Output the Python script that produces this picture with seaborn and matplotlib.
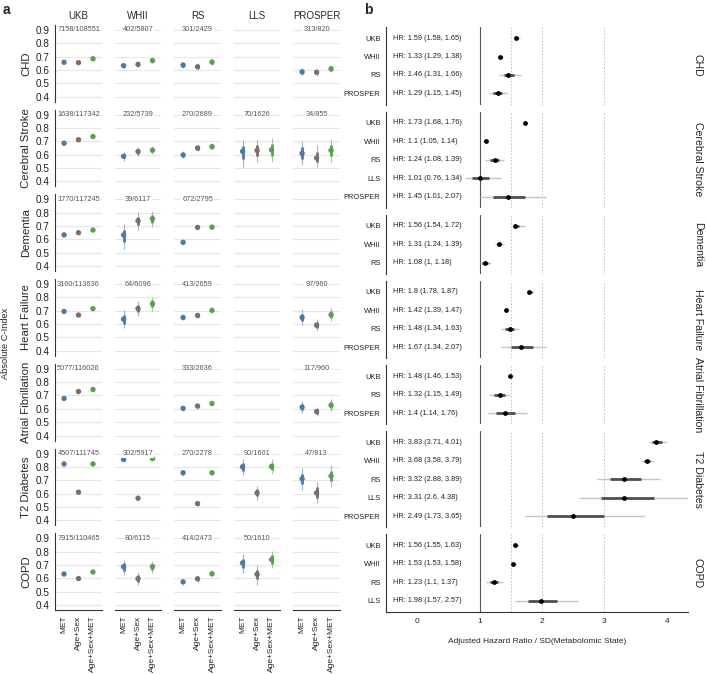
import numpy as np
import pandas as pd
import seaborn as sns
import matplotlib.pyplot as plt
from matplotlib.gridspec import GridSpec

nan = np.nan

outcomes = ["CHD", "Cerebral Stroke", "Dementia", "Heart Failure",
            "Atrial Fibrillation", "T2 Diabetes", "COPD"]
cohorts = ["UKB", "WHII", "RS", "LLS", "PROSPER"]
models = ["MET", "Age+Sex", "Age+Sex+MET"]
model_colors = ["#4E79A7", "#79706E", "#59A14F"]

# panel a: absolute C-index, rows = outcomes, cols = cohorts
met_est = [
    [0.658, 0.632, 0.637, nan, 0.586],
    [0.686, 0.588, 0.598, 0.625, 0.610],
    [0.634, 0.633, 0.578, nan, nan],
    [0.695, 0.637, 0.650, nan, 0.650],
    [0.678, nan, 0.604, nan, 0.612],
    [0.822, 0.855, 0.756, 0.800, 0.710],
    [0.632, 0.686, 0.573, 0.714, nan],
]
met_lo = [
    [0.652, 0.612, 0.612, nan, 0.560],
    [0.675, 0.555, 0.572, 0.510, 0.525],
    [0.624, 0.530, 0.562, nan, nan],
    [0.688, 0.570, 0.630, nan, 0.590],
    [0.672, nan, 0.585, nan, 0.570],
    [0.816, 0.840, 0.735, 0.740, 0.630],
    [0.627, 0.628, 0.550, 0.638, nan],
]
met_hi = [
    [0.664, 0.652, 0.662, nan, 0.614],
    [0.697, 0.620, 0.625, 0.712, 0.705],
    [0.644, 0.712, 0.594, nan, nan],
    [0.702, 0.705, 0.670, nan, 0.710],
    [0.684, nan, 0.625, nan, 0.658],
    [0.828, 0.870, 0.778, 0.858, 0.790],
    [0.637, 0.738, 0.596, 0.780, nan],
]
agesex_est = [
    [0.655, 0.642, 0.624, nan, 0.583],
    [0.712, 0.624, 0.650, 0.632, 0.575],
    [0.650, 0.740, 0.690, nan, nan],
    [0.668, 0.717, 0.665, nan, 0.592],
    [0.730, nan, 0.621, nan, 0.580],
    [0.610, 0.565, 0.525, 0.605, 0.605],
    [0.598, 0.597, 0.596, 0.630, nan],
]
agesex_lo = [
    [0.649, 0.620, 0.598, nan, 0.558],
    [0.702, 0.592, 0.625, 0.545, 0.510],
    [0.641, 0.670, 0.676, nan, nan],
    [0.661, 0.660, 0.646, nan, 0.550],
    [0.725, nan, 0.602, nan, 0.545],
    [0.602, 0.548, 0.505, 0.550, 0.530],
    [0.593, 0.552, 0.575, 0.550, nan],
]
agesex_hi = [
    [0.661, 0.664, 0.650, nan, 0.608],
    [0.722, 0.658, 0.675, 0.715, 0.672],
    [0.659, 0.805, 0.704, nan, nan],
    [0.675, 0.772, 0.684, nan, 0.635],
    [0.735, nan, 0.640, nan, 0.615],
    [0.618, 0.582, 0.545, 0.660, 0.690],
    [0.603, 0.648, 0.618, 0.700, nan],
]
full_est = [
    [0.684, 0.671, 0.660, nan, 0.609],
    [0.736, 0.634, 0.660, 0.637, 0.632],
    [0.670, 0.755, 0.692, nan, nan],
    [0.716, 0.752, 0.703, nan, 0.670],
    [0.745, nan, 0.640, nan, 0.627],
    [0.822, 0.862, 0.756, 0.803, 0.732],
    [0.647, 0.688, 0.634, 0.740, nan],
]
full_lo = [
    [0.678, 0.650, 0.635, nan, 0.582],
    [0.726, 0.605, 0.635, 0.545, 0.545],
    [0.661, 0.690, 0.678, nan, nan],
    [0.709, 0.700, 0.686, nan, 0.620],
    [0.740, nan, 0.620, nan, 0.585],
    [0.816, 0.848, 0.735, 0.748, 0.648],
    [0.642, 0.640, 0.610, 0.675, nan],
]
full_hi = [
    [0.690, 0.692, 0.685, nan, 0.638],
    [0.746, 0.662, 0.685, 0.722, 0.720],
    [0.679, 0.812, 0.706, nan, nan],
    [0.723, 0.805, 0.720, nan, 0.722],
    [0.750, nan, 0.660, nan, 0.672],
    [0.828, 0.876, 0.778, 0.860, 0.812],
    [0.652, 0.730, 0.660, 0.808, nan],
]
events = [
    ["7158/108551", "402/5807", "301/2429", "", "313/820"],
    ["1638/117342", "232/5739", "270/2689", "70/1626", "34/855"],
    ["1770/117245", "39/6117", "672/2795", "", ""],
    ["3160/113636", "64/6096", "413/2659", "", "97/960"],
    ["5077/116026", "", "333/2636", "", "117/960"],
    ["4507/111745", "302/5917", "270/2278", "90/1601", "47/813"],
    ["7915/110465", "80/6115", "414/2473", "50/1610", ""],
]

# panel b: adjusted hazard ratios per SD
hr_cohorts = [
    ["UKB", "WHII", "RS", "PROSPER"],
    ["UKB", "WHII", "RS", "LLS", "PROSPER"],
    ["UKB", "WHII", "RS"],
    ["UKB", "WHII", "RS", "PROSPER"],
    ["UKB", "RS", "PROSPER"],
    ["UKB", "WHII", "RS", "LLS", "PROSPER"],
    ["UKB", "WHII", "RS", "LLS"],
]
hr_est = [
    [1.59, 1.33, 1.46, 1.29],
    [1.73, 1.1, 1.24, 1.01, 1.45],
    [1.56, 1.31, 1.08],
    [1.8, 1.42, 1.48, 1.67],
    [1.48, 1.32, 1.4],
    [3.83, 3.68, 3.32, 3.31, 2.49],
    [1.56, 1.53, 1.23, 1.98],
]
hr_lo = [
    [1.58, 1.29, 1.31, 1.15],
    [1.68, 1.05, 1.08, 0.76, 1.01],
    [1.54, 1.24, 1],
    [1.78, 1.39, 1.34, 1.34],
    [1.46, 1.15, 1.14],
    [3.71, 3.58, 2.88, 2.6, 1.73],
    [1.55, 1.53, 1.1, 1.57],
]
hr_hi = [
    [1.65, 1.38, 1.66, 1.45],
    [1.76, 1.14, 1.39, 1.34, 2.07],
    [1.72, 1.39, 1.18],
    [1.87, 1.47, 1.63, 2.07],
    [1.53, 1.49, 1.76],
    [4.01, 3.79, 3.89, 4.38, 3.65],
    [1.63, 1.58, 1.37, 2.57],
]

# 66% interval drawn as the thick part (fraction of the 95% half-width)
z66 = 0.954 / 1.96

rows = []
for i, o in enumerate(outcomes):
    for j, c in enumerate(cohorts):
        for k, (est, lo, hi) in enumerate([(met_est, met_lo, met_hi),
                                          (agesex_est, agesex_lo, agesex_hi),
                                          (full_est, full_lo, full_hi)]):
            if not np.isnan(est[i][j]):
                rows.append(dict(outcome=o, cohort=c, model=models[k], pos=k,
                                 est=est[i][j], lo=lo[i][j], hi=hi[i][j]))
cidx = pd.DataFrame(rows)

hr_rows = []
for i, o in enumerate(outcomes):
    for k, c in enumerate(hr_cohorts[i]):
        hr_rows.append(dict(outcome=o, cohort=c, pos=k, hr=hr_est[i][k],
                            lo=hr_lo[i][k], hi=hr_hi[i][k]))
hr = pd.DataFrame(hr_rows)

sns.set_theme(style="white")
plt.rcParams["font.family"] = ["Liberation Sans", "DejaVu Sans"]

fig = plt.figure(figsize=(7.06, 6.74), dpi=100)
pal = dict(zip(models, model_colors))

# ---------------- panel a ----------------
gsa = GridSpec(7, 5, figure=fig, left=0.078, right=0.4816, top=0.963,
               bottom=0.095, hspace=0.104, wspace=0.27)
for i, o in enumerate(outcomes):
    for j, c in enumerate(cohorts):
        ax = fig.add_subplot(gsa[i, j])
        sub = cidx[(cidx.outcome == o) & (cidx.cohort == c)]
        for y in [0.4, 0.5, 0.6, 0.7, 0.8, 0.9]:
            ax.axhline(y, color="#e6e6e6", lw=0.8, zorder=0)
        if len(sub):
            cols = [pal[m] for m in sub.model]
            ax.vlines(sub.pos, sub.lo, sub.hi, colors=cols, lw=0.8,
                      alpha=0.55, zorder=1)
            ax.vlines(sub.pos, sub.est - (sub.est - sub.lo) * z66,
                      sub.est + (sub.hi - sub.est) * z66, colors=cols,
                      lw=2.0, zorder=2)
            sns.scatterplot(data=sub, x="pos", y="est", hue="model",
                            hue_order=models, palette=pal, s=15,
                            linewidth=0, legend=False, ax=ax, zorder=3)
        if events[i][j]:
            ax.text(1, 0.9, events[i][j], ha="center", va="center",
                    fontsize=5.3, color="#555555", zorder=4,
                    bbox=dict(facecolor="white", edgecolor="none", pad=0.6))
        ax.set_xlim(-0.62, 2.62)
        ax.set_ylim(0.3625, 0.9375)
        ax.set_xticks(range(3))
        ax.set_yticks([0.4, 0.5, 0.6, 0.7, 0.8, 0.9])
        for s in ["top", "right"]:
            ax.spines[s].set_visible(False)
        ax.spines["left"].set_visible(j == 0)
        ax.spines["bottom"].set_visible(i == 6)
        for s in ["left", "bottom"]:
            ax.spines[s].set_color("#333333")
            ax.spines[s].set_linewidth(0.8)
        ax.tick_params(length=2.5, width=0.6, color="#333333", pad=1.5)
        ax.set_xlabel("")
        ax.set_ylabel("")
        if j == 0:
            ax.set_yticklabels(["0.4", "0.5", "0.6", "0.7", "0.8", "0.9"],
                               fontsize=7.2, color="#222222")
            ax.set_ylabel(o, fontsize=8.2, labelpad=3)
        else:
            ax.tick_params(axis="y", left=False, labelleft=False)
        if i == 6:
            ax.set_xticklabels(models, rotation=90, fontsize=6.0,
                               color="#222222")
        else:
            ax.tick_params(axis="x", bottom=False, labelbottom=False)
        if i == 0:
            ax.set_title(c, fontsize=7.0, pad=4)

fig.text(0.008, 0.49, "Absolute C-Index", rotation=90, ha="center",
         va="center", fontsize=6.7)
fig.text(0.004, 0.995, "a", fontsize=10, fontweight="bold", va="top")

# ---------------- panel b ----------------
ratios = [len(c) + 0.2 for c in hr_cohorts]
gsb = GridSpec(7, 1, figure=fig, left=0.5467, right=0.9745, top=0.96,
               bottom=0.092, hspace=0.09, height_ratios=ratios)
for i, o in enumerate(outcomes):
    ax = fig.add_subplot(gsb[i, 0])
    sub = hr[hr.outcome == o]
    n = len(sub)
    ax.axvline(1, color="#555555", lw=0.8, zorder=0)
    for xv in [1.5, 2, 3]:
        ax.axvline(xv, color="#bbbbbb", lw=0.6, ls=(0, (2, 2)), zorder=0)
    ax.hlines(sub.pos, sub.lo, sub.hi, color="#c4c4c4", lw=1.0, zorder=1)
    lo66 = np.exp(np.log(sub.hr) - (np.log(sub.hr) - np.log(sub.lo)) * z66)
    hi66 = np.exp(np.log(sub.hr) + (np.log(sub.hi) - np.log(sub.hr)) * z66)
    ax.hlines(sub.pos, lo66, hi66, color="#505050", lw=2.0, zorder=2)
    sns.scatterplot(data=sub, x="hr", y="pos", color="black", s=12,
                    linewidth=0, ax=ax, zorder=3)
    for _, r in sub.iterrows():
        ax.text(-0.38, r.pos, f"HR: {r.hr:g} ({r.lo:g}, {r.hi:g})",
                ha="left", va="center", fontsize=5.3, color="#222222")
    ax.set_xlim(-0.5, 4.34)
    ax.set_ylim(n - 1 + 0.6, -0.6)
    ax.set_yticks(range(n))
    ax.set_yticklabels(list(sub.cohort), fontsize=5.4, color="#222222")
    ax.set_xticks([0, 1, 2, 3, 4])
    for s in ["top", "right"]:
        ax.spines[s].set_visible(False)
    ax.spines["bottom"].set_visible(i == 6)
    for s in ["left", "bottom"]:
        ax.spines[s].set_color("#333333")
        ax.spines[s].set_linewidth(0.8)
    ax.tick_params(length=2.5, width=0.6, color="#333333", pad=1.5)
    ax.set_ylabel("")
    if i == 6:
        ax.set_xticklabels(["0", "1", "2", "3", "4"], fontsize=6,
                           color="#222222")
        ax.set_xlabel("Adjusted Hazard Ratio / SD(Metabolomic State)",
                      fontsize=6, labelpad=10)
    else:
        ax.tick_params(axis="x", bottom=False, labelbottom=False)
        ax.set_xlabel("")
    ax.text(1.033, 0.5, o, rotation=270, ha="center", va="center",
            fontsize=7.6, transform=ax.transAxes)

fig.text(0.516, 0.995, "b", fontsize=10, fontweight="bold", va="top")

fig.savefig("out.png", dpi=100)
